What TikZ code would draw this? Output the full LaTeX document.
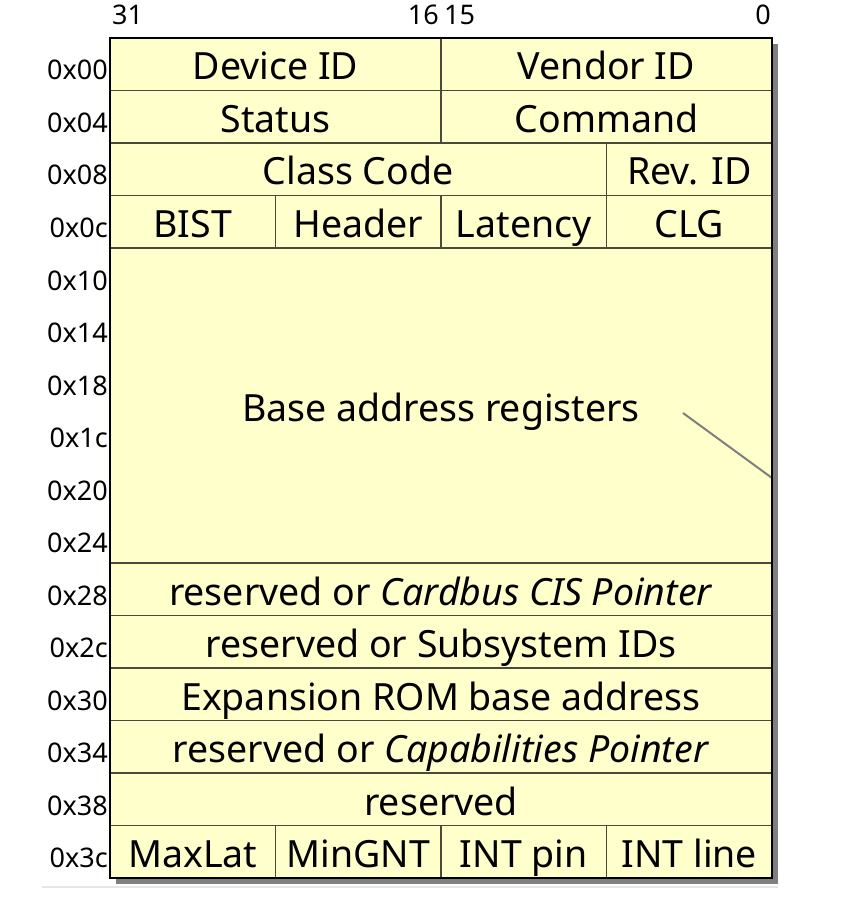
\documentclass[tikz,border=0pt]{standalone}
\usepackage{fontspec}
\setmainfont{Noto Sans}
\usetikzlibrary{positioning}
\definecolor{regfill}{HTML}{FFFFCC}
\definecolor{regline}{HTML}{4A4A3A}
\definecolor{shadowgray}{HTML}{7F7F7F}
\newcommand{\fieldfont}{\fontsize{37.5}{40}\selectfont}
\newcommand{\numfont}{\fontsize{27}{30}\selectfont}

\begin{document}
\begin{tikzpicture}[x=1pt, y=-1pt,
  every node/.style={inner sep=0pt},
  reg/.style={draw=regline, fill=regfill, line width=1.5pt, minimum height=52.5pt,
    text height=34pt, text depth=2.5pt, font=\fieldfont},
  wide/.style={reg, minimum width=662pt},
  half/.style={reg, minimum width=331pt},
  quart/.style={reg, minimum width=165.5pt},
  tquart/.style={reg, minimum width=496.5pt},
  offs/.style={anchor=base east, font=\numfont},
  bitno/.style={font=\numfont},
  lead/.style={draw=shadowgray, line width=2pt}]
  \useasboundingbox (0,0) rectangle (841,901);
  \node[minimum width=662pt, minimum height=840pt] (frame) at (441,458) {};
  \fill[shadowgray] ([shift={(6,6)}]frame.north west) rectangle ([shift={(6,6)}]frame.south east);
  % bit numbers
  \node[bitno, anchor=base west] (b31) at (112,25) {31};
  \node[bitno, anchor=base east] (b16) at (439,25) {16};
  \node[bitno, anchor=base west] (b15) at (444,25) {15};
  \node[bitno, anchor=base east] (b0) at (771,25) {0};
  % header fields
  \node[half] (devid) at (275.5,64.25) {Device ID};
  \node[half] (vendid) at (606.5,64.25) {Vendor ID};
  \node[half] (status) at (275.5,116.75) {Status};
  \node[half] (cmd) at (606.5,116.75) {Command};
  \node[tquart] (class) at (358.25,169.25) {Class Code};
  \node[quart] (rev) at (689.25,169.25) {Rev. ID};
  \node[quart] (bist) at (192.75,221.75) {BIST};
  \node[quart] (hdr) at (358.25,221.75) {Header};
  \node[quart] (lat) at (523.75,221.75) {Latency};
  \node[quart] (clg) at (689.25,221.75) {CLG};
  \node[wide, minimum height=315pt] (bar) at (441,405.5) {Base address registers};
  \node[wide] (cis) at (441,589.25) {reserved or \textit{Cardbus CIS Pointer}};
  \node[wide] (subsys) at (441,641.75) {reserved or Subsystem IDs};
  \node[wide] (rom) at (441,694.25) {Expansion ROM base address};
  \node[wide] (cap) at (441,746.75) {reserved or \textit{Capabilities Pointer}};
  \node[wide] (resv) at (441,799.25) {reserved};
  \node[quart] (maxlat) at (192.75,851.75) {MaxLat};
  \node[quart] (mingnt) at (358.25,851.75) {MinGNT};
  \node[quart] (intpin) at (523.75,851.75) {INT pin};
  \node[quart] (intline) at (689.25,851.75) {INT line};
  % offsets
  \foreach \o [count=\i from 0] in {00,04,08,0c,10,14,18,1c,20,24,28,2c,30,34,38,3c}
    \node[offs] (off\o) at (108,80+52.5*\i) {0x\o};
  \coordinate (barlead) at (683,413);
  \coordinate (bartip) at (772,478);
  \draw[lead] (barlead) -- (bartip);
  \draw[line width=2pt] (frame.north west) rectangle (frame.south east);
  \draw[gray!20, line width=2pt] (42,887) -- (778,887);
\end{tikzpicture}
\end{document}
